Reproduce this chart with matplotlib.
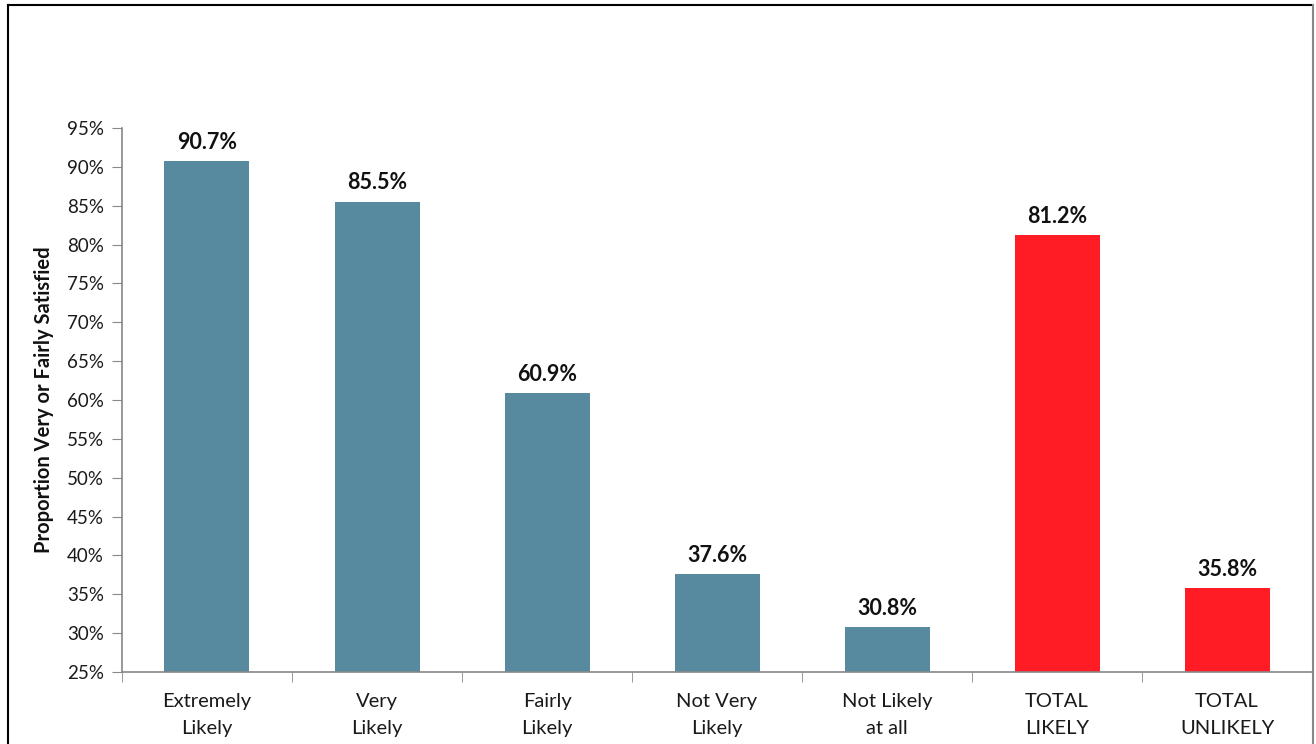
import matplotlib.pyplot as plt
import numpy as np
from matplotlib.lines import Line2D
from matplotlib.ticker import FixedLocator, PercentFormatter

categories = ['Extremely\nLikely', 'Very\nLikely', 'Fairly\nLikely', 'Not Very\nLikely',
              'Not Likely\nat all', 'TOTAL\nLIKELY', 'TOTAL\nUNLIKELY']
values = [90.7, 85.5, 60.9, 37.6, 30.8, 81.2, 35.8]
colors = ['#578A9E'] * 5 + ['#FF1C24'] * 2

plt.rcParams['font.family'] = ['Lato', 'DejaVu Sans']

fig = plt.figure(figsize=(13.16, 7.44), dpi=100)
ax = fig.add_axes([0.0927, 0.0968, 0.9043, 0.7312])

x = np.arange(len(values))
ax.bar(x, values, width=0.5, color=colors, zorder=2)
for xi, v in zip(x, values):
    ax.annotate(f'{v:.1f}%', (xi, v), xytext=(0, 6), textcoords='offset points',
                ha='center', va='bottom', fontsize=15.5, fontweight='bold', color='#111111')

ax.set_xlim(-0.5, len(values) - 0.5)
ax.set_ylim(25, 95)
ax.set_yticks(np.arange(25, 96, 5))
ax.yaxis.set_major_formatter(PercentFormatter(decimals=0))
ax.set_xticks(x)
ax.set_xticklabels(categories, fontsize=14.5, linespacing=1.7, color='#1a1a1a')
ax.xaxis.set_minor_locator(FixedLocator(np.arange(-0.5, len(values), 1)))
ax.tick_params(axis='x', which='major', length=0, pad=15)
ax.tick_params(axis='x', which='minor', length=7, color='#888888', direction='out')
ax.tick_params(axis='y', length=7, color='#888888', labelsize=13.5, labelcolor='#1a1a1a', pad=6)

for s in ['top', 'right']:
    ax.spines[s].set_visible(False)
for s in ['left', 'bottom']:
    ax.spines[s].set_color('#888888')
    ax.spines[s].set_linewidth(1.2)

ax.set_ylabel('Proportion Very or Fairly Satisfied', fontsize=14.5, fontweight='bold',
              labelpad=9, color='#111111')

# outer frame of the chart area (bottom edge cut off)
W, H = 1316, 744
fig.add_artist(Line2D([8 / W, 8 / W], [0, 1 - 5 / H], color='black', lw=1.5))
fig.add_artist(Line2D([8 / W, 1313 / W], [1 - 5 / H, 1 - 5 / H], color='black', lw=1.5))
fig.add_artist(Line2D([1313 / W, 1313 / W], [0, 1 - 5 / H], color='#888888', lw=1.5))

fig.savefig('out.png', dpi=100)
